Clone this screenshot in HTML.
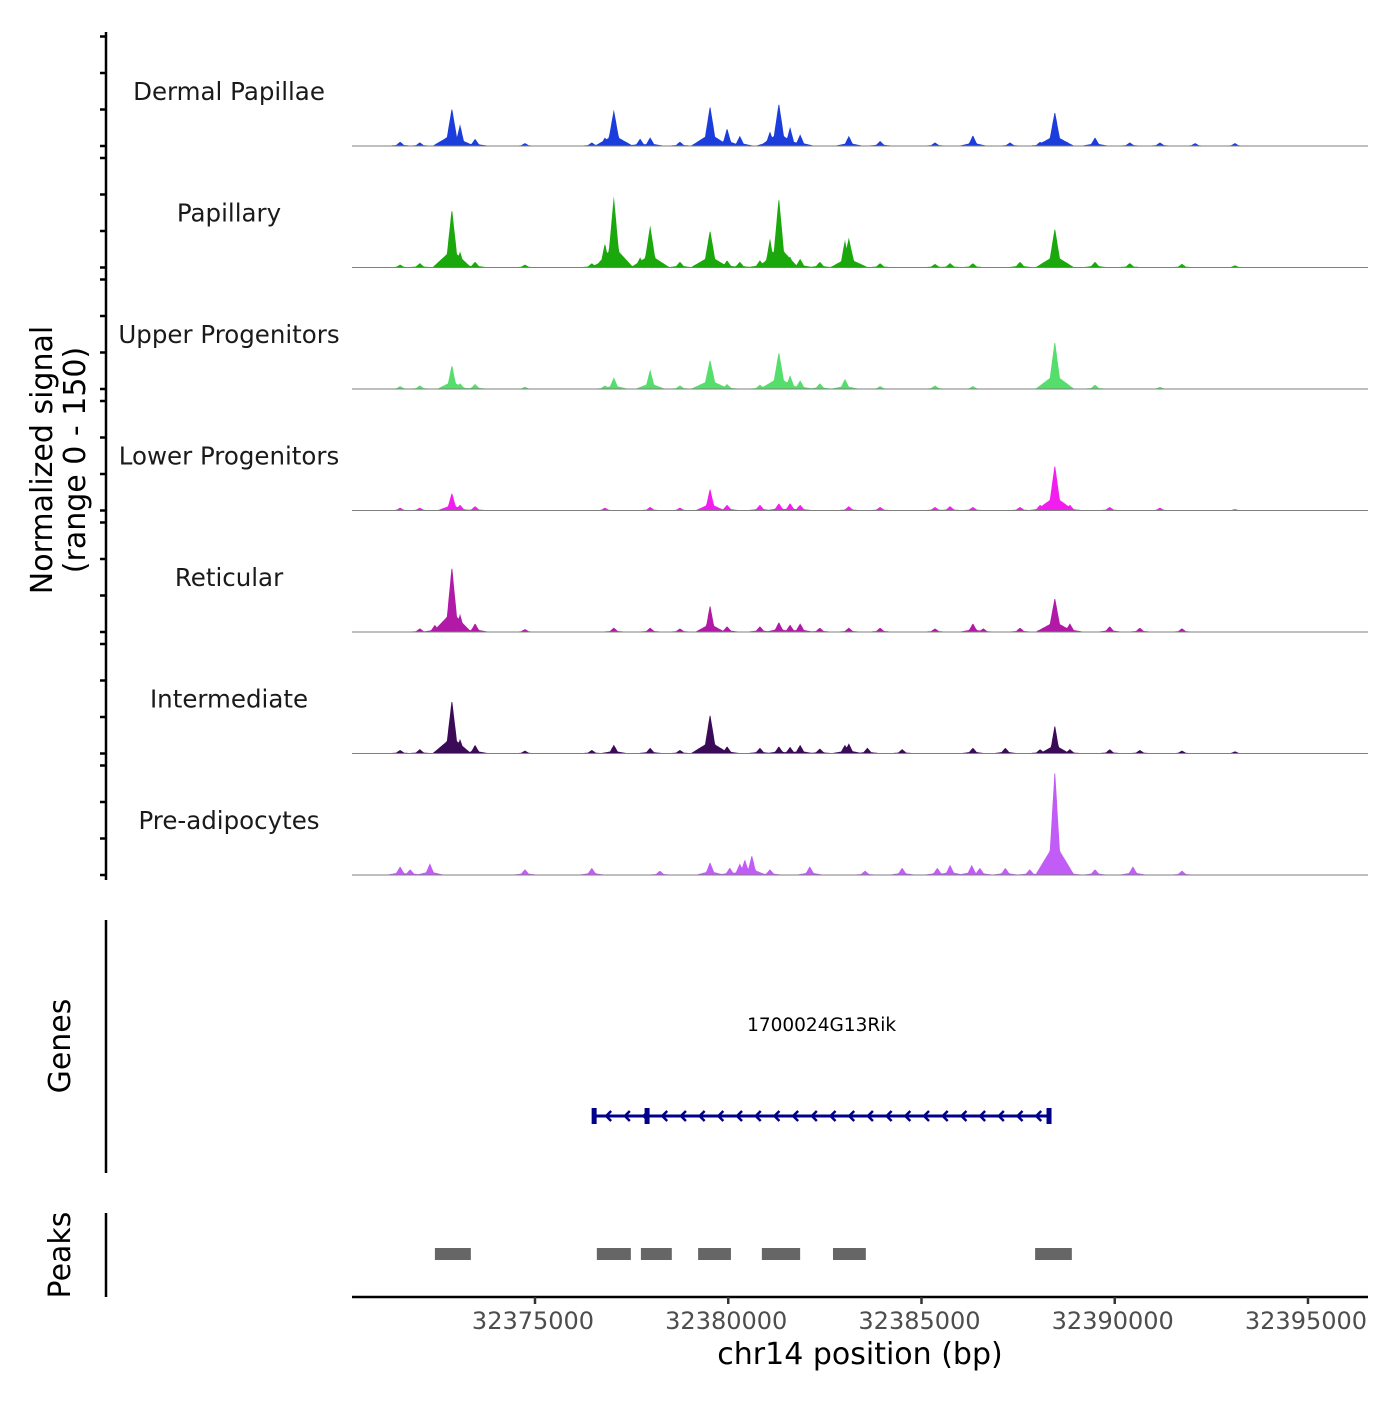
<!DOCTYPE html>
<html><head><meta charset="utf-8"><style>
html,body{margin:0;padding:0;background:#fff;}
svg text{font-family:"DejaVu Sans","Liberation Sans",sans-serif;}
</style></head><body>
<svg id="chart" width="1400" height="1400" viewBox="0 0 1400 1400" xmlns="http://www.w3.org/2000/svg"></svg>
<script>
// ---- data ----
const trackNames = ["Dermal Papillae","Papillary","Upper Progenitors","Lower Progenitors","Reticular","Intermediate","Pre-adipocytes"];
const trackColors = ["#1a3ddc","#1aa80d","#55de6b","#f21ef0","#b01aa6","#3b0b57","#c25cf6"];
const dpPos = [32371.51,32372.02,32372.85,32373.06,32373.45,32374.74,32376.47,32376.81,32377.04,32377.72,32377.98,32378.75,32379.53,32379.97,32380.30,32381.08,32381.31,32381.60,32381.86,32383.12,32383.93,32385.35,32386.33,32387.29,32388.07,32388.45,32389.49,32390.39,32391.17,32392.08,32393.11];
const dpVal = [6,5,53,30,10,4,5,12,50,10,12,6,56,25,14,20,60,26,16,14,7,5,15,5,6,48,12,5,5,4,4];
const papPos = [32371.51,32372.02,32372.85,32373.06,32373.45,32374.74,32376.47,32376.81,32377.04,32377.72,32377.98,32378.75,32379.53,32379.97,32380.30,32380.82,32381.08,32381.31,32381.60,32381.86,32382.37,32383.02,32383.12,32383.93,32385.35,32385.74,32386.33,32387.55,32388.45,32389.49,32390.39,32391.74,32393.11];
const papVal = [4,6,82,22,8,4,6,34,98,14,58,8,52,10,8,10,40,98,15,12,8,38,41,6,5,6,6,8,55,8,6,5,3];
const upPos = [32371.51,32372.02,32372.85,32373.06,32373.45,32374.74,32376.81,32377.04,32377.98,32378.75,32379.53,32379.97,32380.82,32381.31,32381.60,32381.86,32382.37,32383.02,32383.93,32385.35,32386.33,32388.07,32388.45,32389.49,32391.17];
const upVal = [4,5,34,8,7,3,5,16,27,5,41,7,6,52,19,12,8,14,4,5,4,4,67,6,3];
const loPos = [32371.51,32372.02,32372.85,32373.06,32373.45,32376.81,32377.98,32378.75,32379.53,32379.97,32380.82,32381.31,32381.60,32381.86,32383.12,32383.93,32385.35,32385.74,32386.33,32387.55,32388.07,32388.45,32388.84,32389.87,32391.17,32393.11];
const loVal = [4,4,25,8,6,4,5,4,31,8,8,10,10,8,6,5,5,6,5,5,8,64,8,5,4,2];
const retPos = [32372.02,32372.41,32372.85,32373.06,32373.45,32374.74,32377.04,32377.98,32378.75,32379.53,32379.97,32380.82,32381.31,32381.60,32381.86,32382.37,32383.12,32383.93,32385.35,32386.33,32386.60,32387.55,32388.45,32388.84,32389.87,32390.65,32391.74];
const retVal = [5,10,92,25,12,4,6,6,5,38,8,8,14,10,12,6,6,6,5,12,5,6,48,12,8,6,5];
const intPos = [32371.51,32372.02,32372.85,32373.06,32373.45,32374.74,32376.47,32377.04,32377.98,32378.75,32379.53,32379.97,32380.82,32381.31,32381.60,32381.86,32382.37,32383.02,32383.12,32383.60,32384.50,32386.33,32387.17,32388.07,32388.45,32388.84,32389.87,32390.65,32391.74,32393.11];
const intVal = [5,6,75,20,12,4,5,12,8,5,55,10,8,10,9,12,7,12,14,8,6,8,8,6,40,6,6,5,4,3];
const prePos = [32371.51,32371.77,32372.28,32374.74,32376.47,32378.23,32379.53,32380.04,32380.30,32380.43,32380.61,32381.08,32382.11,32383.54,32384.50,32385.41,32385.74,32386.30,32386.51,32387.17,32387.80,32388.45,32388.84,32389.49,32390.47,32391.74];
const preVal = [12,8,16,8,10,6,18,10,16,22,28,8,12,6,10,10,14,14,10,10,8,148,8,8,12,6];
const trackPos = [dpPos,papPos,upPos,loPos,retPos,intPos,prePos];
const trackVal = [dpVal,papVal,upVal,loVal,retVal,intVal,preVal];
const geneStart = 32376.53, geneEnd = 32388.30, geneExon = 32377.90;
const peakStarts = [32372.41,32376.60,32377.74,32379.22,32380.87,32382.71,32387.94];
const peakEnds   = [32373.34,32377.48,32378.54,32380.07,32381.86,32383.56,32388.89];
const xTicks = [32375000,32380000,32385000,32390000,32395000];
const yTicks = [0,50,100,150];

// ---- scales ----
const X0=352, X1=1368, KB0=32370.265, KB1=32396.553;
const xs = kb => X0 + (kb-KB0)/(KB1-KB0)*(X1-X0);
const base0 = 146, trackStep = 121.5, yPer = 0.73;
const ys = (i,v) => base0 + i*trackStep - v*yPer;

const svg = document.getElementById('chart');
const NS = "http://www.w3.org/2000/svg";
function mk(tag, attrs, parent){const e=document.createElementNS(NS,tag);for(const k in attrs)e.setAttribute(k,attrs[k]);(parent||svg).appendChild(e);return e;}

// tracks
for(let i=0;i<trackNames.length;i++){
  const g=mk('g',{});
  
  
  const pos=trackPos[i], val=trackVal[i];
  const hw = 0.13;
  let d='M'+xs(32371.2)+','+ys(i,0);
  for(let kb=32371.2; kb<=32393.3; kb+=0.02){
    let v=0;
    for(let j=0;j<pos.length;j++){
      const w = val[j]>40?hw*1.3:hw;
      const dd=Math.abs(kb-pos[j]);
      if(dd<w){v=Math.max(v,val[j]*(1-dd/w));}
      if(dd<3*w){v=Math.max(v,0.3*val[j]*(1-dd/(3*w)));}
    }
    d+='L'+xs(kb).toFixed(1)+','+ys(i,v).toFixed(1);
  }
  d+='L'+xs(32393.3)+','+ys(i,0)+'Z';
  const p=mk('path',{d:d,fill:trackColors[i],stroke:'none'},g);
  
  
  const bl=mk('line',{x1:X0,x2:X1,y1:ys(i,0),y2:ys(i,0),stroke:'#7f7f7f','stroke-width':1},g);
  
  
  const t=mk('text',{x:229,y:ys(i,0)-46,'text-anchor':'middle','font-size':24.5,fill:'#1a1a1a'},g);
  t.textContent=trackNames[i];
  
  
  for(const v of yTicks){
    const tk=mk('line',{x1:100,x2:106,y1:ys(i,v),y2:ys(i,v),stroke:'#000','stroke-width':2.5},g);
    
    
  }
}
// left axis
const la=mk('line',{x1:106,x2:106,y1:32,y2:880,stroke:'#000','stroke-width':2.5});


const yt=mk('text',{transform:'translate(52,460) rotate(-90)','text-anchor':'middle','font-size':30,fill:'#000'});


yt.innerHTML='<tspan x="0" dy="0">Normalized signal</tspan><tspan x="0" dy="33">(range 0 - 150)</tspan>';

// genes
const ga=mk('line',{x1:106,x2:106,y1:920,y2:1173,stroke:'#000','stroke-width':2.5});


const gt=mk('text',{transform:'translate(70,1046) rotate(-90)','text-anchor':'middle','font-size':30});
gt.textContent='Genes';


const gg=mk('g',{});


const gy=1116, gc='#00008b';
mk('line',{x1:xs(geneStart),x2:xs(geneEnd),y1:gy,y2:gy,stroke:gc,'stroke-width':3},gg);
for(const kb of [geneStart,geneExon,geneEnd]) mk('rect',{x:xs(kb)-2.5,y:gy-8,width:5,height:16,fill:gc},gg);
for(let x=xs(geneStart)+12; x<xs(geneEnd)-4; x+=18.7){
  mk('polyline',{points:`${x+5},${gy-5} ${x},${gy} ${x+5},${gy+5}`,fill:'none',stroke:gc,'stroke-width':2.5},gg);
}
const gl=mk('text',{x:(xs(geneStart)+xs(geneEnd))/2,y:1031,'text-anchor':'middle','font-size':18.5,fill:'#000'},gg);
gl.textContent='1700024G13Rik';

// peaks
const pa=mk('line',{x1:106,x2:106,y1:1213,y2:1297,stroke:'#000','stroke-width':2.5});


const pt=mk('text',{transform:'translate(70,1255) rotate(-90)','text-anchor':'middle','font-size':30});
pt.textContent='Peaks';


for(let j=0;j<peakStarts.length;j++){
  const r=mk('rect',{x:xs(peakStarts[j]),y:1248,width:xs(peakEnds[j])-xs(peakStarts[j]),height:12,fill:'#666'});
  
  
}

// x axis
const xa=mk('line',{x1:X0,x2:X1,y1:1297,y2:1297,stroke:'#000','stroke-width':2.5});


for(const v of xTicks){
  const x=xs(v/1000);
  const tk=mk('line',{x1:x,x2:x,y1:1297,y2:1304,stroke:'#333','stroke-width':2.5});
  
  
  const tl=mk('text',{x:x-2,y:1329,'text-anchor':'middle','font-size':24,fill:'#4d4d4d'});
  tl.textContent=String(v);
  
  
}
const xt=mk('text',{x:860,y:1364,'text-anchor':'middle','font-size':30,fill:'#000'});
xt.textContent='chr14 position (bp)';


</script>
</body></html>
